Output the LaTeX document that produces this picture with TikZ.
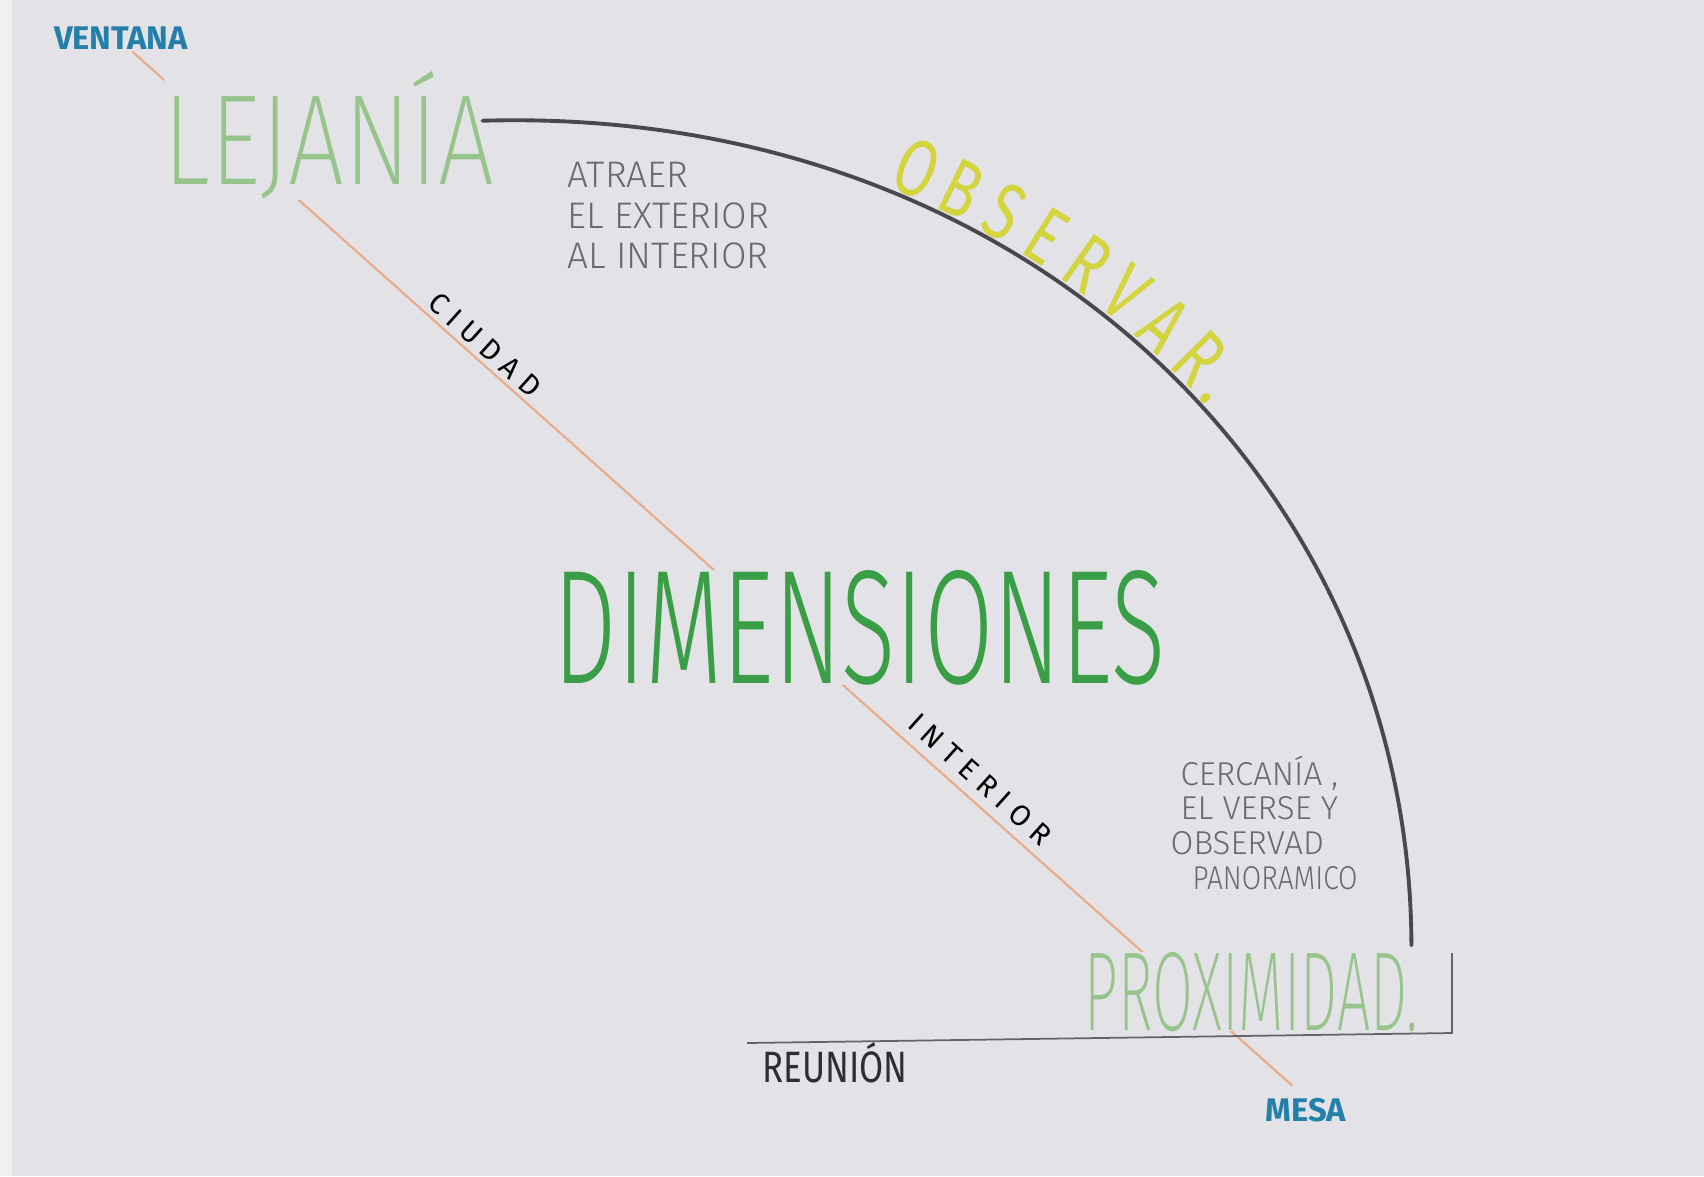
\documentclass[tikz,border=0pt]{standalone}
\usepackage{fontspec}
\usepackage{graphicx}
\newfontfamily\penfont{Fira Sans}
\IfFontExistsTF{Fira Sans Light}
    {\newfontfamily\handfont{Fira Sans Light}}
    {\newfontfamily\handfont{Fira Sans}}
\IfFontExistsTF{Fira Sans ExtraLight}
    {\newfontfamily\hairfont{Fira Sans ExtraLight}}
    {\IfFontExistsTF{DejaVu Sans ExtraLight}
        {\newfontfamily\hairfont{DejaVu Sans ExtraLight}}
        {\newfontfamily\hairfont{Fira Sans}}}
\usetikzlibrary{decorations.markings}

\definecolor{paper}{RGB}{226,226,231}
\definecolor{paperedge}{RGB}{240,240,243}
\definecolor{ruleorange}{RGB}{232,170,135}
\definecolor{arcgray}{RGB}{72,72,78}
\definecolor{palegreen}{RGB}{150,196,138}
\definecolor{dimgreen}{RGB}{58,158,70}
\definecolor{obsyellow}{RGB}{212,212,62}
\definecolor{notegray}{RGB}{105,105,110}
\definecolor{inkdark}{RGB}{45,45,50}
\definecolor{labelblue}{RGB}{36,128,168}

% one unit = one pixel of the sheet
\newlength{\px}
\setlength{\px}{0.01cm}
\newcommand{\fitword}[3]{\resizebox{#1\px}{#2\px}{#3}}

\tikzset{
    word/.style={inner sep=0pt, anchor=base west, fill=paper},
    blue label/.style={font=\penfont\bfseries\fontsize{9.3}{10}\selectfont, text=labelblue, inner sep=0.5pt},
    note/.style={text=notegray, align=left, inner sep=0pt, anchor=north west},
    rule label/.style={font=\penfont\fontsize{8.3}{9}\selectfont\addfontfeatures{LetterSpace=28},
        text=black, rotate=-42, inner sep=0pt},
    rule line/.style={ruleorange, line width=0.6pt},
    arc line/.style={arcgray, line width=1.1pt, line cap=round},
    thin rule/.style={arcgray!85, line width=0.5pt},
    obs letter/.style={font=\penfont\fontsize{23}{24}\selectfont, text=obsyellow,
        transform shape, anchor=base, inner sep=0pt, yshift=1pt},
}

\begin{document}
\begin{tikzpicture}[x=0.01cm, y=-0.01cm]

    % --- Sheet ---
    \def\PaperW{1704}
    \def\PaperH{1176}
    \fill[paper] (0,0) rectangle (\PaperW,\PaperH);
    \fill[paperedge] (0,0) rectangle (12,\PaperH);
    \useasboundingbox (0,0) rectangle (\PaperW,\PaperH);

    % --- Ends of the orange axis ---
    \node[blue label] (ventana) at (121,38) {VENTANA};
    \node[blue label] (mesa) at (1306,1110) {MESA};

    \draw[rule line, shorten >=0.15cm] (ventana.-50) -- (mesa.100);

    % --- Main words (they hide the axis behind them) ---
    \node[word, text=palegreen] (lejania) at (163,185)
        {\hairfont\fitword{330}{113}{LEJANÍA}};
    \node[word, text=dimgreen] (dimensiones) at (553,683)
        {\handfont\fitword{612}{113}{DIMENSIONES}};
    \node[word, text=palegreen] (proximidad) at (1084,1030)
        {\hairfont\fitword{333}{78}{PROXIMIDAD.}};
    \node[word, text=inkdark] (reunion) at (762,1082)
        {\penfont\fitword{145}{40}{REUNIÓN}};

    % --- Labels along the axis ---
    \node[rule label] (ciudad) at (485,345) {CIUDAD};
    \node[rule label] (interior) at (980,779) {INTERIOR};

    % --- Arc from far to near ---
    \draw[arc line]
        ([shift={(-12,-15)}]lejania.east) .. controls (1020,105) and (1410,480)
        .. ([shift={(-7,-6)}]proximidad.north east);

    % OBSERVAR written along the arc
    \foreach \ch/\pos [count=\i] in {O/0.311, B/0.345, S/0.379, E/0.413,
                                     R/0.447, V/0.481, A/0.515, R/0.549, ./0.572} {
        \path[decorate, decoration={markings,
                mark=at position \pos with {\node[obs letter] (obs\i) {\scalebox{0.72}[1]{\ch}};}}]
            ([shift={(-12,-15)}]lejania.east) .. controls (1020,105) and (1410,480)
            .. ([shift={(-7,-6)}]proximidad.north east);
    }

    % --- Notes ---
    \node[note, font=\handfont\fontsize{10.5}{11.4}\selectfont] (atraer) at (567,162)
        {ATRAER\\EL EXTERIOR\\AL INTERIOR};
    \node[note, font=\handfont\fontsize{9.4}{9.9}\selectfont] (cercania) at (1180,755)
        {CERCANÍA ,\\EL VERSE Y\\\hspace*{-0.1cm}OBSERVAD\\\hspace*{0.12cm}\scalebox{0.85}[1]{PANORAMICO}};

    % --- Base line and end stop ---
    \coordinate (base start) at (747,1043);
    \coordinate (base end) at (1452,1033);
    \draw[thin rule] (base start) -- (base end) -- ++(0,-80);

\end{tikzpicture}
\end{document}
